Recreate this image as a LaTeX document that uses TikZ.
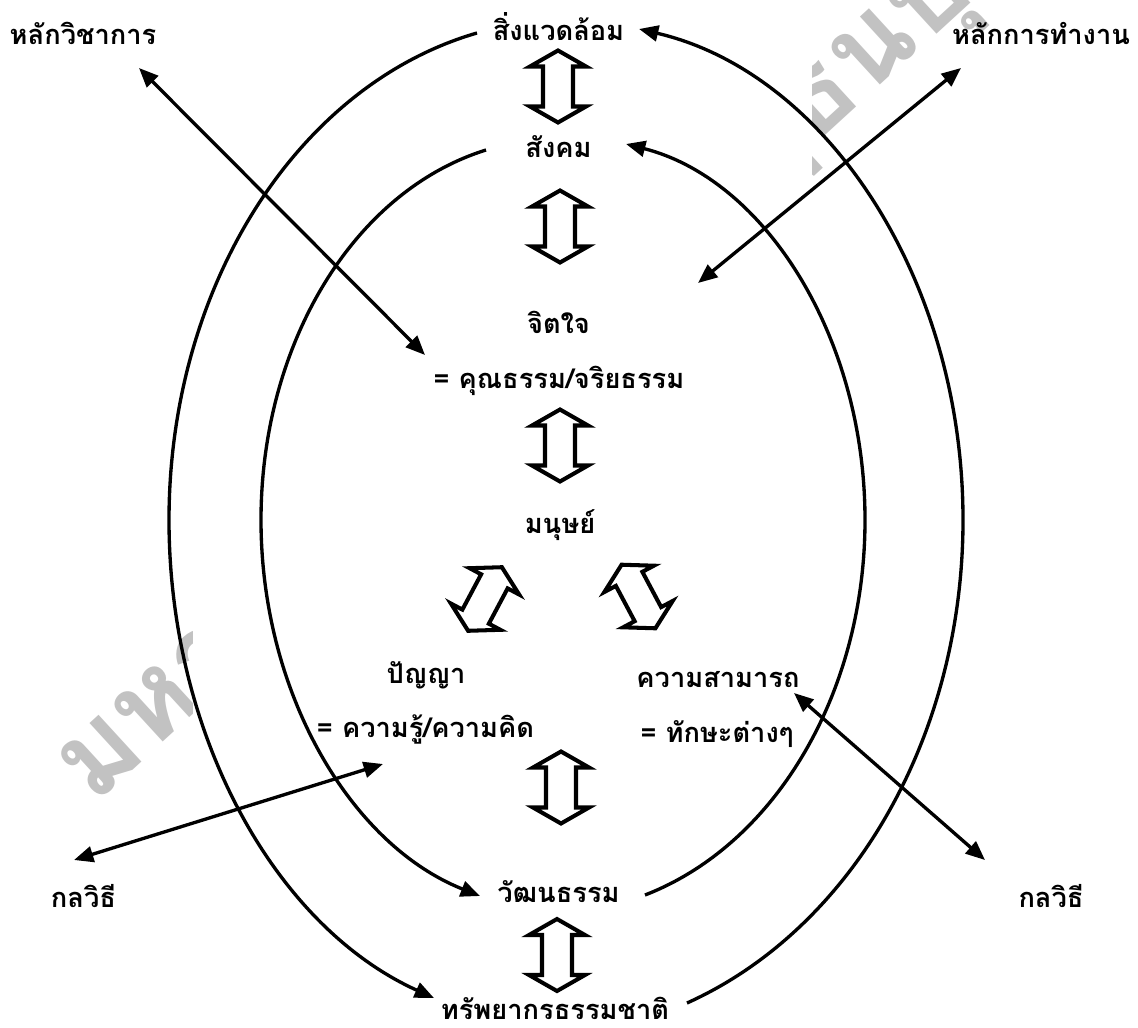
\documentclass[tikz,border=0pt]{standalone}
\usepackage{fontspec}
\setmainfont[Script=Thai]{Loma}
\usetikzlibrary{arrows.meta,calc}
\tikzset{
  x=0.02cm, y=-0.02cm,
  lbl/.style={inner sep=0pt, anchor=base, font=\fontsize{15.5}{18}\selectfont\bfseries},
  wm/.style={inner sep=0pt, text=black!24, font=\fontsize{65}{65}\selectfont\bfseries},
  curv/.style={line width=1.9pt, -{Triangle[length=11pt,width=9pt]}},
  dbl/.style={line width=1.9pt, {Triangle[length=11pt,width=9pt]}-{Triangle[length=11pt,width=9pt]}},
  hollow/.pic={\draw[line width=2.3pt, fill=white, miter limit=10]
     (0,-36) -- (28,-20) -- (15,-20) -- (15,20) -- (28,20) -- (0,36)
     -- (-28,20) -- (-15,20) -- (-15,-20) -- (-28,-20) -- cycle;}
}
\begin{document}
\begin{tikzpicture}
\useasboundingbox (0,0) rectangle (1138,1027);
\fill[white] (0,0) rectangle (1138,1027);
% watermark fragments
\begin{scope}
\clip (0,0) rectangle (192,1027) (812,0) rectangle (1138,1027);
\node[wm, rotate=42.5, anchor=base west] (wmark) at (94,806) {มหาวิทยาลัยราชภัฏธนบุรี};
\end{scope}
% labels
\node[lbl] (env)  at (558.5,41)  {สิ่งแวดล้อม};
\node[lbl] (soc)  at (558.5,158) {สังคม};
\node[lbl] (mind) at (558.5,333) {จิตใจ};
\node[lbl] (khun) at (559,388)   {= คุณธรรม/จริยธรรม};
\node[lbl] (man)  at (560,533)   {มนุษย์};
\node[lbl] (wis)  at (426,683)   {ปัญญา};
\node[lbl] (khw)  at (425.5,737) {= ความรู้/ความคิด};
\node[lbl] (kam)  at (718,687)   {ความสามารถ};
\node[lbl] (skl)  at (717,742)   {= ทักษะต่างๆ};
\node[lbl] (cul)  at (558.5,902) {วัฒนธรรม};
\node[lbl] (nat)  at (555,1019)  {ทรัพยากรธรรมชาติ};
\node[lbl] (wich) at (83,45)     {หลักวิชาการ};
\node[lbl] (ham)  at (1041,45)   {หลักการทำงาน};
\node[lbl] (klL)  at (83.5,907)  {กลวิธี};
\node[lbl] (klR)  at (1051,907)  {กลวิธี};
% helper coordinates
\coordinate (oL) at (169,520);
\coordinate (oR) at (963,520);
\coordinate (iL) at (261,520);
\coordinate (iR) at (865,520);
\coordinate (hamIn) at (698,283);
% hollow double arrows
\pic at (558,86.5) {hollow};
\pic at (560,226.5) {hollow};
\pic at (560,445.5) {hollow};
\pic[rotate=-28] at (485,599) {hollow};
\pic[rotate=28] at (638.5,596.5) {hollow};
\pic at (561,787.5) {hollow};
\pic at (557,955) {hollow};
% outer ring
\draw[curv] ($(env.base)+(-81.5,-8)$) .. controls (296.6,85.2) and (169,287.2) .. (oL)
   .. controls (169,733.4) and (273.8,925.5) .. ($(nat.base)+(-121,-21)$);
\draw[curv] ($(nat.base)+(132,-16)$) .. controls (852.3,928.6) and (963,736.6) .. (oR)
   .. controls (963,279.3) and (826.8,72.9) .. ($(env.base)+(80.5,-12)$);
% inner ring
\draw[curv] ($(soc.base)+(-72.5,-8)$) .. controls (352.8,191.5) and (261,344.9) .. (iL)
   .. controls (261,692.6) and (350.3,844.4) .. ($(cul.base)+(-78.5,-6)$);
\draw[curv] ($(cul.base)+(86.5,-7)$) .. controls (775.7,844.4) and (865,692.6) .. (iR)
   .. controls (865,337.3) and (765.3,179.5) .. ($(soc.base)+(67.5,-14)$);
% straight double arrows
\draw[dbl] ($(wich.base)+(56,23)$) -- ($(khun.base)+(-134,-33)$);
\draw[dbl] ($(ham.base)+(-80,23)$) -- (hamIn);
\draw[dbl] ($(khw.base)+(-42.5,27)$) -- ($(klL.base)+(-9.5,-47)$);
\draw[dbl] ($(kam.base)+(76,6)$) -- ($(klR.base)+(-66,-47)$);
\end{tikzpicture}
\end{document}
